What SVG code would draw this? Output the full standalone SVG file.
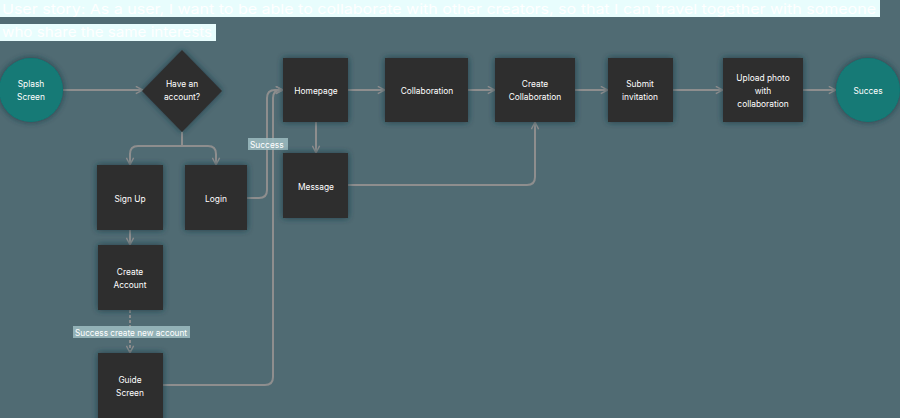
<svg xmlns="http://www.w3.org/2000/svg" width="900" height="418" viewBox="0 0 900 418">
<defs>
<style>
.bg{fill:#506b73}
.box{fill:#2f2f2f}
.circ{fill:#127a76}
.t{font-family:Inter,"Liberation Sans",sans-serif;font-size:8.4px;fill:#ffffff;text-anchor:middle}
.c{fill:none;stroke:#8e8e8e;stroke-width:2;stroke-linejoin:round}
.lbl{font-family:Inter,"Liberation Sans",sans-serif;font-size:8.4px;fill:#ffffff}
.title{font-family:Inter,"Liberation Sans",sans-serif;font-size:13.5px;fill:#ffffff}
</style>
<filter id="sh" x="-20%" y="-20%" width="140%" height="140%">
<feDropShadow dx="0" dy="0" stdDeviation="3" flood-color="#173842" flood-opacity="0.9"/>
</filter>
<marker id="ar" viewBox="0 0 10 10" refX="9" refY="5" markerWidth="9" markerHeight="9" markerUnits="userSpaceOnUse" orient="auto">
<path d="M1,1 L9,5 L1,9" fill="none" stroke="#8e8e8e" stroke-width="1.6"/>
</marker>
</defs>
<rect class="bg" x="0" y="0" width="900" height="418"/>
<g id="title">
<rect x="0" y="0" width="880" height="17" fill="#e8fdfd"/>
<rect x="0" y="24" width="216" height="17" fill="#e8fdfd"/>
<text class="title" x="2" y="14" textLength="874" lengthAdjust="spacingAndGlyphs">User story: As a user, I want to be able to collaborate with other creators, so that I can travel together with someone</text>
<text class="title" x="2" y="37" textLength="210" lengthAdjust="spacingAndGlyphs">who share the same interests</text>
</g>
<g id="connectors">
<path class="c" d="M63,90 H143" marker-end="url(#ar)"/>
<path class="c" d="M182,132 V146 H138 Q130,146 130,154 V165" marker-end="url(#ar)"/>
<path class="c" d="M182,146 H208 Q216,146 216,154 V165" marker-end="url(#ar)"/>
<path class="c" d="M247,198 H259 Q267,198 267,190 V98 Q267,90 275,90 H283" marker-end="url(#ar)"/>
<path class="c" d="M163,385 H265 Q273,385 273,377 V98 Q273,90 281,90 H283" marker-end="url(#ar)"/>
<path class="c" d="M348,90 H385" marker-end="url(#ar)"/>
<path class="c" d="M468,90 H495" marker-end="url(#ar)"/>
<path class="c" d="M575,90 H608" marker-end="url(#ar)"/>
<path class="c" d="M673,90 H723" marker-end="url(#ar)"/>
<path class="c" d="M803,90 H836" marker-end="url(#ar)"/>
<path class="c" d="M316,122 V153" marker-end="url(#ar)"/>
<path class="c" d="M348,185 H527 Q535,185 535,177 V122" marker-end="url(#ar)"/>
<path class="c" d="M130,230 V245" marker-end="url(#ar)"/>
<path class="c" d="M130,310 V353" stroke-dasharray="3,2" marker-end="url(#ar)"/>
<rect x="248" y="138" width="40" height="12" fill="#9dbdc2" opacity="0.85"/>
<text class="lbl" x="250" y="147.5">Success</text>
<rect x="73" y="326" width="117" height="12" fill="#9dbdc2" opacity="0.85"/>
<text class="lbl" x="75" y="335.5" textLength="112" lengthAdjust="spacingAndGlyphs">Success create new account</text>
</g>
<g id="splash"><circle class="circ" cx="31" cy="90" r="32" filter="url(#sh)"/><text class="t" x="31" y="87">Splash</text><text class="t" x="31" y="100">Screen</text></g>
<g id="have-account"><path class="box" d="M182,50 L222,91 L182,132 L142,91 Z" filter="url(#sh)"/><text class="t" x="182" y="87">Have an</text><text class="t" x="182" y="100">account?</text></g>
<g id="homepage"><rect class="box" x="283" y="58" width="65" height="64" filter="url(#sh)"/><text class="t" x="316" y="93.5">Homepage</text></g>
<g id="collaboration"><rect class="box" x="385" y="58" width="83" height="64" filter="url(#sh)"/><text class="t" x="427" y="93.5">Collaboration</text></g>
<g id="create-collab"><rect class="box" x="495" y="58" width="80" height="64" filter="url(#sh)"/><text class="t" x="535" y="87">Create</text><text class="t" x="535" y="100">Collaboration</text></g>
<g id="submit"><rect class="box" x="608" y="58" width="65" height="64" filter="url(#sh)"/><text class="t" x="640" y="87">Submit</text><text class="t" x="640" y="100">invitation</text></g>
<g id="upload"><rect class="box" x="723" y="58" width="80" height="64" filter="url(#sh)"/><text class="t" x="763" y="81">Upload photo</text><text class="t" x="763" y="94">with</text><text class="t" x="763" y="107">collaboration</text></g>
<g id="succes"><circle class="circ" cx="868" cy="90" r="32" filter="url(#sh)"/><text class="t" x="868" y="93.5">Succes</text></g>
<g id="signup"><rect class="box" x="97" y="165" width="66" height="65" filter="url(#sh)"/><text class="t" x="130" y="201.5">Sign Up</text></g>
<g id="login"><rect class="box" x="185" y="165" width="62" height="65" filter="url(#sh)"/><text class="t" x="216" y="201.5">Login</text></g>
<g id="message"><rect class="box" x="283" y="153" width="65" height="65" filter="url(#sh)"/><text class="t" x="316" y="190">Message</text></g>
<g id="create-account"><rect class="box" x="98" y="245" width="65" height="65" filter="url(#sh)"/><text class="t" x="130" y="275">Create</text><text class="t" x="130" y="288">Account</text></g>
<g id="guide"><rect class="box" x="98" y="353" width="65" height="70" filter="url(#sh)"/><text class="t" x="130" y="383">Guide</text><text class="t" x="130" y="396">Screen</text></g>
</svg>
